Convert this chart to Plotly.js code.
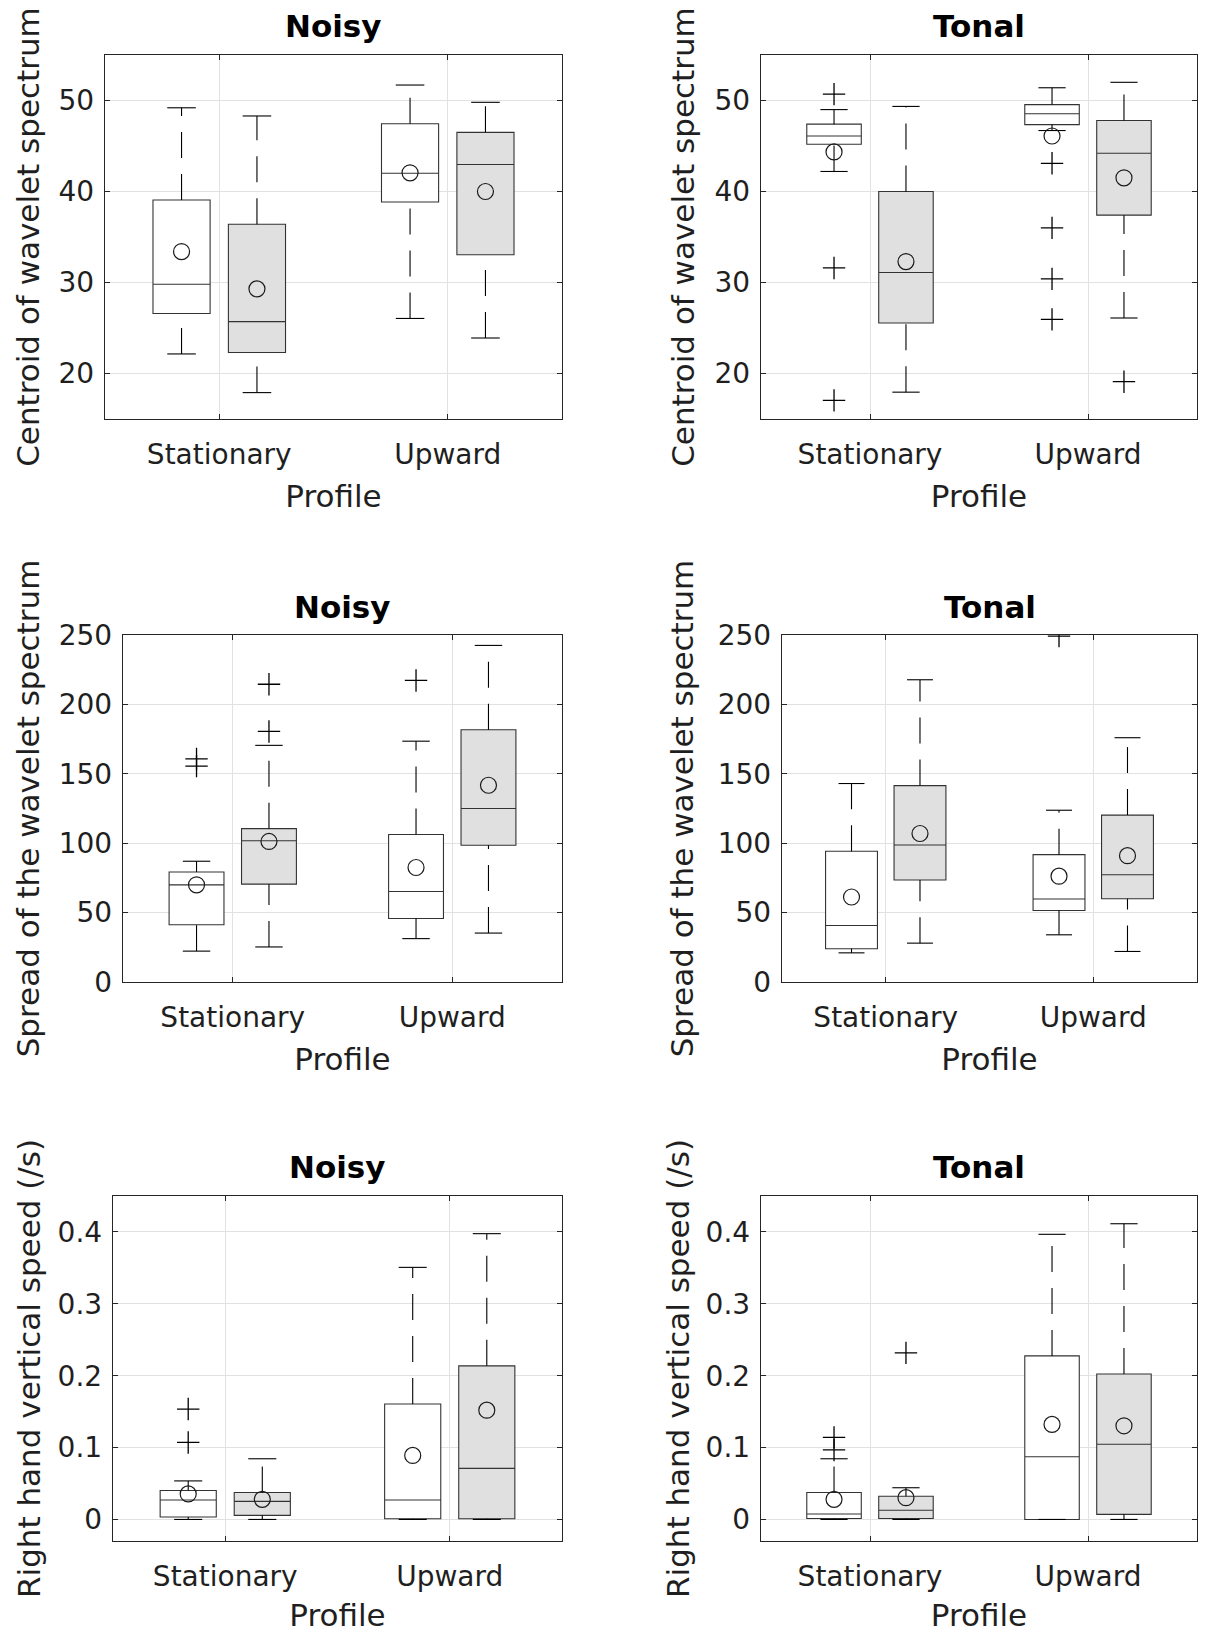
<!DOCTYPE html>
<html>
<head>
<meta charset="utf-8">
<script src="https://cdn.plot.ly/plotly-3.0.1.min.js"></script>
<style>html,body{margin:0;padding:0;background:#fff;}#chart{width:1206px;height:1633px;}</style>
</head>
<body>
<div id="chart"></div>
<script>
// ---------------- DATA ----------------
const profiles = ['Stationary', 'Upward'];
const profileTicks = [1, 2];
const statOrder = ['lower whisker', 'q1', 'median', 'q3', 'upper whisker', 'mean'];

// Centroid of wavelet spectrum — Noisy
const centroidNoisyWhite = [[22.15, 26.6, 29.8, 39.06, 49.2, 33.4], [26.05, 38.85, 42.0, 47.45, 51.7, 42.05]];
const centroidNoisyWhiteOut = [[], []];
const centroidNoisyGrey = [[17.9, 22.3, 25.7, 36.4, 48.3, 29.3], [23.9, 33.05, 42.96, 46.5, 49.8, 40.0]];
const centroidNoisyGreyOut = [[], []];

// Centroid of wavelet spectrum — Tonal
const centroidTonalWhite = [[42.2, 45.2, 46.1, 47.4, 49.0, 44.35], [46.7, 47.35, 48.55, 49.55, 51.4, 46.1]];
const centroidTonalWhiteOut = [[50.7, 31.6, 17.05], [43.1, 36.0, 30.4, 25.95]];
const centroidTonalGrey = [[17.95, 25.55, 31.1, 40.0, 49.35, 32.3], [26.1, 37.4, 44.2, 47.8, 52.0, 41.5]];
const centroidTonalGreyOut = [[], [19.1]];

// Spread of the wavelet spectrum — Noisy
const spreadNoisyWhite = [[22.25, 41.25, 70.0, 79.25, 87.0, 70.0], [31.25, 45.75, 65.25, 106.25, 173.5, 82.5]];
const spreadNoisyWhiteOut = [[160.75, 155.5], [217.25]];
const spreadNoisyGrey = [[25.25, 70.5, 101.75, 110.5, 170.5, 101.25], [35.25, 98.5, 125.0, 181.75, 242.5, 141.75]];
const spreadNoisyGreyOut = [[214.5, 180.5], []];

// Spread of the wavelet spectrum — Tonal
const spreadTonalWhite = [[21.0, 24.0, 40.75, 94.25, 143.0, 61.25], [34.0, 51.5, 59.75, 91.75, 123.75, 76.25]];
const spreadTonalWhiteOut = [[], [249.25]];
const spreadTonalGrey = [[28.0, 73.5, 98.75, 141.5, 217.75, 107.0], [22.0, 60.0, 77.25, 120.25, 176.0, 91.0]];
const spreadTonalGreyOut = [[], []];

// Right hand vertical speed — Noisy
const speedNoisyWhite = [[0.0, 0.0033, 0.027, 0.0403, 0.0536, 0.0355], [0.0, 0.001, 0.027, 0.1607, 0.3507, 0.0891]];
const speedNoisyWhiteOut = [[0.1536, 0.1071], []];
const speedNoisyGrey = [[0.0, 0.0057, 0.0251, 0.0374, 0.0844, 0.028], [0.0, 0.001, 0.0711, 0.2137, 0.3976, 0.152]];
const speedNoisyGreyOut = [[], []];

// Right hand vertical speed — Tonal
const speedTonalWhite = [[0.0, 0.0014, 0.0076, 0.0374, 0.0844, 0.028], [0.0, 0.0, 0.0872, 0.2275, 0.3967, 0.1322]];
const speedTonalWhiteOut = [[0.1142, 0.0967], []];
const speedTonalGrey = [[0.0, 0.0014, 0.0128, 0.0322, 0.0441, 0.0303], [0.0, 0.0071, 0.1047, 0.2024, 0.4114, 0.1303]];
const speedTonalGreyOut = [[0.2318], []];

const yTitles = ['Centroid of wavelet spectrum', 'Spread of the wavelet spectrum', 'Right hand vertical speed (/s)'];
const yRanges = [[15, 55], [0, 250], [-0.03, 0.45]];
const yTicks = [[20, 30, 40, 50], [0, 50, 100, 150, 200, 250], [0, 0.1, 0.2, 0.3, 0.4]];
const panelTitles = ['Noisy', 'Tonal'];

// ---------------- LAYOUT / STYLE ----------------
const W = 1206, H = 1633;
const panels = [
  {L: 105, R: 562, T: 55,   B: 419,  row: 0, col: 0, white: centroidNoisyWhite, whiteOut: centroidNoisyWhiteOut, grey: centroidNoisyGrey, greyOut: centroidNoisyGreyOut, standoff: 9, titleY: 26},
  {L: 761, R: 1197, T: 55,  B: 419,  row: 0, col: 1, white: centroidTonalWhite, whiteOut: centroidTonalWhiteOut, grey: centroidTonalGrey, greyOut: centroidTonalGreyOut, standoff: 10, titleY: 26},
  {L: 123, R: 562, T: 635,  B: 982,  row: 1, col: 0, white: spreadNoisyWhite, whiteOut: spreadNoisyWhiteOut, grey: spreadNoisyGrey, greyOut: spreadNoisyGreyOut, standoff: 9, titleY: 607},
  {L: 782, R: 1197, T: 635, B: 982,  row: 1, col: 1, white: spreadTonalWhite, whiteOut: spreadTonalWhiteOut, grey: spreadTonalGrey, greyOut: spreadTonalGreyOut, standoff: 14, titleY: 607},
  {L: 113, R: 562, T: 1196, B: 1541, row: 2, col: 0, white: speedNoisyWhite, whiteOut: speedNoisyWhiteOut, grey: speedNoisyGrey, greyOut: speedNoisyGreyOut, standoff: 7, titleY: 1167},
  {L: 761, R: 1197, T: 1196, B: 1541, row: 2, col: 1, white: speedTonalWhite, whiteOut: speedTonalWhiteOut, grey: speedTonalGrey, greyOut: speedTonalGreyOut, standoff: 6, titleY: 1167}
];
const OFFSET = 0.165, BOXW = 0.25, CAPW = 0.0625;
const FONT = 'DejaVu Sans, Liberation Sans, sans-serif';
const DARK = '#262626';

const traces = [];
const layout = {
  width: W, height: H,
  margin: {l: 0, r: 0, t: 0, b: 0},
  paper_bgcolor: '#ffffff', plot_bgcolor: '#ffffff',
  showlegend: false,
  font: {family: FONT, color: DARK},
  annotations: []
};

function col(stats, k) { return stats.map(s => s[k]); }

panels.forEach((p, i) => {
  const n = i + 1;
  const xa = 'x' + (n === 1 ? '' : n), ya = 'y' + (n === 1 ? '' : n);
  const xkey = 'xaxis' + (n === 1 ? '' : n), ykey = 'yaxis' + (n === 1 ? '' : n);

  [[p.white, p.whiteOut, '#ffffff', -OFFSET], [p.grey, p.greyOut, '#e0e0e0', OFFSET]].forEach(([st, out, fill, off]) => {
    const pos = profileTicks.map(t => t + off);
    // boxes (q1 / median / q3)
    traces.push({
      type: 'box', xaxis: xa, yaxis: ya, x: pos,
      q1: col(st, 1), median: col(st, 2), q3: col(st, 3),
      lowerfence: col(st, 1), upperfence: col(st, 3),
      width: BOXW, whiskerwidth: 0, boxpoints: false,
      fillcolor: fill, line: {color: '#333333', width: 1.1},
      hoverinfo: 'skip'
    });
    // dashed whiskers (drawn from lower to upper value, as in the original)
    const wx = [], wy = [], cx = [], cy = [];
    pos.forEach((x, j) => {
      wx.push(x, x, null, x, x, null);
      wy.push(st[j][3], st[j][4], null, st[j][0], st[j][1], null);
      cx.push(x - CAPW, x + CAPW, null, x - CAPW, x + CAPW, null);
      cy.push(st[j][4], st[j][4], null, st[j][0], st[j][0], null);
    });
    traces.push({type: 'scatter', mode: 'lines', xaxis: xa, yaxis: ya, x: wx, y: wy,
      line: {color: '#000000', width: 1.1, dash: '26px,16px'}, hoverinfo: 'skip', connectgaps: false});
    traces.push({type: 'scatter', mode: 'lines', xaxis: xa, yaxis: ya, x: cx, y: cy,
      line: {color: '#000000', width: 1.1}, hoverinfo: 'skip', connectgaps: false});
    // means
    traces.push({type: 'scatter', mode: 'markers', xaxis: xa, yaxis: ya, x: pos, y: col(st, 5),
      marker: {symbol: 'circle-open', size: 16, color: '#1a1a1a', line: {width: 1.2, color: '#1a1a1a'}}, hoverinfo: 'skip'});
    // outliers
    const ox = [], oy = [];
    out.forEach((vals, j) => vals.forEach(v => { ox.push(pos[j]); oy.push(v); }));
    if (ox.length) {
      traces.push({type: 'scatter', mode: 'markers', xaxis: xa, yaxis: ya, x: ox, y: oy,
        marker: {symbol: 'cross-thin-open', size: 16, color: '#000000', line: {width: 1.3, color: '#000000'}}, hoverinfo: 'skip'});
    }
  });

  const common = {
    showline: true, mirror: 'allticks', linecolor: DARK, linewidth: 1.3,
    ticks: 'inside', ticklen: 5, tickcolor: DARK, tickwidth: 1,
    showgrid: true, gridcolor: '#e2e2e2', gridwidth: 1, zeroline: false,
    tickfont: {family: FONT, size: 28, color: '#1f1f1f'}, automargin: false, fixedrange: true
  };
  layout[xkey] = Object.assign({}, common, {
    domain: [p.L / W, p.R / W], anchor: ya, range: [0.5, 2.5],
    tickmode: 'array', tickvals: profileTicks, ticktext: profiles, ticklabelstandoff: 10,
    title: {text: 'Profile', font: {family: FONT, size: 31, color: '#1f1f1f'}, standoff: 15}
  });
  layout[ykey] = Object.assign({}, common, {
    domain: [1 - p.B / H, 1 - p.T / H], anchor: xa, range: yRanges[p.row],
    tickmode: 'array', tickvals: yTicks[p.row], ticklabelstandoff: 4,
    title: {text: yTitles[p.row], font: {family: FONT, size: 31, color: '#1f1f1f'}, standoff: p.standoff}
  });
  layout.annotations.push({
    xref: 'paper', yref: 'paper', x: (p.L + p.R) / 2 / W, y: 1 - p.titleY / H,
    xanchor: 'center', yanchor: 'middle', showarrow: false,
    text: '<b>' + panelTitles[p.col] + '</b>', font: {family: FONT, size: 31, color: '#000000'}
  });
});

Plotly.newPlot('chart', traces, layout, {staticPlot: true, displayModeBar: false});
</script>
</body>
</html>
